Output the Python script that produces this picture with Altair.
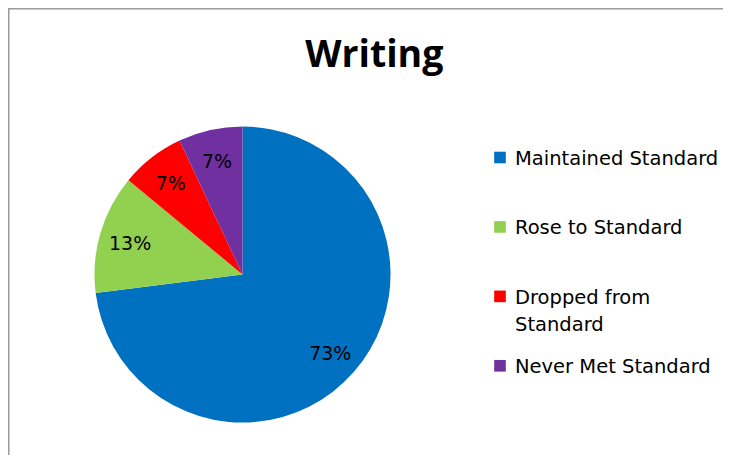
import altair as alt
import pandas as pd

# ---- data ----
categories = ["Maintained Standard", "Rose to Standard", "Dropped from Standard", "Never Met Standard"]
values = [73, 13, 7, 7]
colors = ["#0070C0", "#92D050", "#FF0000", "#7030A0"]
legend_labels = ["Maintained Standard", "Rose to Standard", "Dropped from\nStandard", "Never Met Standard"]
title_text = "Writing"

df = pd.DataFrame({"category": categories, "value": values, "legend_label": legend_labels})
dummy = pd.DataFrame({"a": [0]})

W, H = 715, 447
cx, cy = 234.5, 266.5

base = alt.Chart(df).transform_window(order="row_number()").transform_calculate(
    pct="datum.value + '%'"
)

color_enc = alt.Color("category:N", scale=alt.Scale(domain=categories, range=colors), legend=None)

pie = base.mark_arc(radius=148).encode(
    theta=alt.Theta("value:Q", stack=True),
    color=color_enc,
    order=alt.Order("order:Q"),
    x=alt.value(cx),
    y=alt.value(cy),
)

pie_labels = base.mark_text(radius=117, dy=2, font="DejaVu Sans", fontSize=19, color="#000000").encode(
    theta=alt.Theta("value:Q", stack=True),
    order=alt.Order("order:Q"),
    text="pct:N",
    x=alt.value(cx),
    y=alt.value(cy),
)

title = alt.Chart(dummy).mark_text(
    text=title_text, font="Open Sans", fontWeight="bold", fontSize=37.5,
    align="center", baseline="alphabetic", color="#000000",
).encode(x=alt.value(366.3), y=alt.value(58.7))

legend_y = alt.Y(
    "category:N",
    sort=categories,
    scale=alt.Scale(domain=categories, range=[157, 365.3], padding=0),
    axis=None,
)

legend_squares = base.mark_square(size=135, opacity=1, yOffset=-7.5).encode(
    x=alt.value(492),
    y=legend_y,
    color=color_enc,
)

legend_text = base.mark_text(
    align="left", baseline="alphabetic", font="DejaVu Sans", fontSize=19.5,
    lineBreak="\n", lineHeight=26.7, color="#000000",
).encode(
    x=alt.value(507),
    y=legend_y,
    text="legend_label:N",
)

border_top = alt.Chart(dummy).mark_rule(color="#9a9a9a", strokeWidth=1.5).encode(
    x=alt.value(0), x2=alt.value(W + 40), y=alt.value(0.75)
)
border_left = alt.Chart(dummy).mark_rule(color="#9a9a9a", strokeWidth=1.5).encode(
    x=alt.value(0.75), y=alt.value(0), y2=alt.value(H + 40)
)

chart = alt.layer(
    border_top, border_left, pie, pie_labels, title, legend_squares, legend_text
).properties(
    width=W, height=H, autosize=alt.AutoSizeParams(type="none"), padding=0,
    background="white",
).configure_view(stroke=None)

chart.save("out.html", embed_options={"renderer": "svg", "actions": False})
